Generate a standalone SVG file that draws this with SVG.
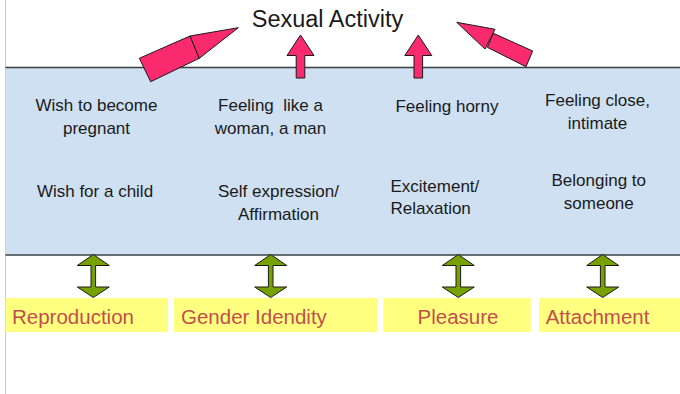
<svg xmlns="http://www.w3.org/2000/svg" xmlns:xlink="http://www.w3.org/1999/xlink" width="680" height="394" viewBox="0 0 680 394">
  <style>
    .body { font-family: "Liberation Sans", Arial, sans-serif; font-size: 17px; fill: #1a1a1a; }
    .mid { text-anchor: middle; }
    .title { font-family: "Liberation Sans", Arial, sans-serif; font-size: 23.5px; fill: #1a1a1a; text-anchor: middle; }
    .label { font-family: "Liberation Sans", Arial, sans-serif; font-size: 20.5px; fill: #c0504d; }
    .pink { fill: #fa2a6e; stroke: #1a1a1a; stroke-width: 1; stroke-linejoin: miter; }
    .green { fill: #77a100; stroke: #1a1a1a; stroke-width: 1; }
    .tag { fill: #ffff80; }
  </style>
  <defs>
    <!-- vertical double-headed arrow, centred on x=0 -->
    <polygon id="dbl" class="green" points="0,254.5 16,265.5 2.3,265.5 2.3,287 16,287 0,297.5 -16,287 -2.3,287 -2.3,265.5 -16,265.5"/>
    <!-- upward block arrow, centred on x=0 -->
    <polygon id="up" class="pink" points="0,35 13.5,55.5 4.3,55.5 4.3,78 -4.3,78 -4.3,55.5 -13.5,55.5"/>
  </defs>

  <rect x="0" y="0" width="680" height="394" fill="#ffffff"/>
  <line x1="5.5" y1="0" x2="5.5" y2="394" stroke="#c8c8c8" stroke-width="1"/>

  <!-- motivation panel -->
  <g id="panel">
    <rect x="5.5" y="67.5" width="680" height="187.5" fill="#cfe0f2"/>
    <line x1="5.5" y1="67.5" x2="680" y2="67.5" stroke="#3a3f44" stroke-width="1.5"/>
    <line x1="5.5" y1="255" x2="680" y2="255" stroke="#3a3f44" stroke-width="1.5"/>
  </g>

  <g id="title">
    <text class="title" x="327.5" y="27">Sexual Activity</text>
  </g>

  <g id="reproduction-motives">
    <text class="body mid" x="96.5" y="111">Wish to become</text>
    <text class="body mid" x="96.5" y="134">pregnant</text>
    <text class="body mid" x="95" y="196.5">Wish for a child</text>
  </g>
  <g id="gender-motives">
    <text class="body mid" x="270.5" y="111" style="white-space:pre">Feeling  like a</text>
    <text class="body mid" x="270.5" y="134">woman, a man</text>
    <text class="body mid" x="278.5" y="196.5">Self expression/</text>
    <text class="body mid" x="278.5" y="219.5">Affirmation</text>
  </g>
  <g id="pleasure-motives">
    <text class="body mid" x="447" y="111.5">Feeling horny</text>
    <text class="body" x="390.5" y="191.5">Excitement/</text>
    <text class="body" x="390.5" y="213.5">Relaxation</text>
  </g>
  <g id="attachment-motives">
    <text class="body mid" x="597.5" y="106">Feeling close,</text>
    <text class="body mid" x="597.5" y="128.5">intimate</text>
    <text class="body mid" x="598.8" y="186">Belonging to</text>
    <text class="body mid" x="598.8" y="208.5">someone</text>
  </g>

  <g id="reproduction">
    <rect class="tag" x="5.5" y="298" width="162.5" height="34"/>
    <text class="label" x="12" y="324">Reproduction</text>
  </g>
  <g id="gender-identity">
    <rect class="tag" x="174" y="298" width="203.7" height="34"/>
    <text class="label" x="181" y="324">Gender Idendity</text>
  </g>
  <g id="pleasure">
    <rect class="tag" x="383.3" y="298" width="147.4" height="34"/>
    <text class="label" x="417.5" y="324">Pleasure</text>
  </g>
  <g id="attachment">
    <rect class="tag" x="539" y="298" width="141" height="34"/>
    <text class="label" x="545.7" y="324">Attachment</text>
  </g>

  <g id="connectors">
    <!-- block arrows rising into the title -->
    <polygon class="pink" points="139.3,58.3 190,36 199.3,58.3 150.7,81.7"/>
    <polygon class="pink" points="190,36 238.3,27.7 199.3,58.3"/>
    <use xlink:href="#up" x="300.5"/>
    <use xlink:href="#up" x="418.3"/>
    <polygon class="pink" points="493.3,33.3 532.7,51 526,66.7 487.3,47.3"/>
    <polygon class="pink" points="456.7,22.3 495,29.3 485,49"/>
    <!-- links between panel and categories -->
    <use xlink:href="#dbl" x="93.3"/>
    <use xlink:href="#dbl" x="270.7"/>
    <use xlink:href="#dbl" x="458.3"/>
    <use xlink:href="#dbl" x="602.7"/>
  </g>
</svg>
